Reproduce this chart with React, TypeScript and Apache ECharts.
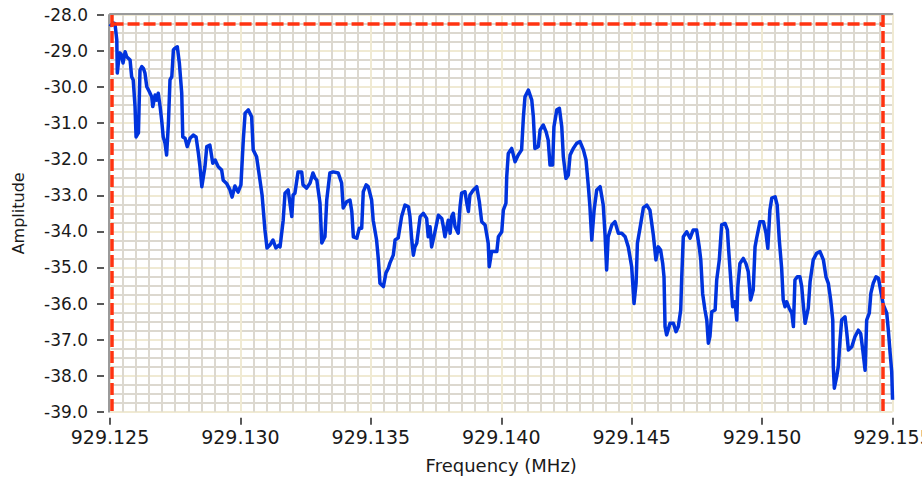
import React, { useEffect, useRef } from "react";
import * as echarts from "echarts";

const frequencies = [
  929.12504, 929.12512, 929.12519, 929.12526, 929.12528, 929.12532, 929.12538, 929.12545, 929.1255, 929.12558,
  929.12564, 929.12577, 929.12583, 929.12589, 929.12596, 929.126, 929.12609, 929.12615, 929.12622, 929.12628,
  929.12634, 929.12641, 929.12651, 929.1266, 929.12664, 929.12673, 929.12679, 929.12685, 929.12692, 929.12698,
  929.12704, 929.12711, 929.12717, 929.12724, 929.1273, 929.12737, 929.12743, 929.12749, 929.12758, 929.12766,
  929.12775, 929.12779, 929.12788, 929.12796, 929.12807, 929.12819, 929.1283, 929.12839, 929.12845, 929.12852,
  929.12864, 929.12871, 929.12883, 929.12894, 929.12903, 929.12915, 929.12928, 929.12934, 929.12947, 929.1296,
  929.12968, 929.12979, 929.12991, 929.13002, 929.13011, 929.13018, 929.1303, 929.13043, 929.13049, 929.13062,
  929.13075, 929.13083, 929.13094, 929.13102, 929.13113, 929.13125, 929.13136, 929.13148, 929.13152, 929.13164,
  929.13171, 929.13183, 929.13197, 929.13202, 929.13209, 929.13221, 929.13235, 929.1324, 929.13254, 929.13267,
  929.13278, 929.13286, 929.13293, 929.13305, 929.13312, 929.13324, 929.13331, 929.13343, 929.13356, 929.13375,
  929.13388, 929.13394, 929.13407, 929.1342, 929.13427, 929.13433, 929.13446, 929.13456, 929.13465, 929.13471,
  929.13482, 929.1349, 929.13503, 929.13509, 929.13522, 929.13529, 929.13535, 929.13548, 929.13558, 929.13567,
  929.13573, 929.13586, 929.13593, 929.13605, 929.13618, 929.13631, 929.13644, 929.1365, 929.13657, 929.13663,
  929.13669, 929.13676, 929.13689, 929.13701, 929.13714, 929.1372, 929.13727, 929.13733, 929.13746, 929.13759,
  929.13772, 929.13778, 929.13784, 929.13797, 929.13804, 929.1381, 929.13816, 929.13823, 929.13835, 929.13842,
  929.13848, 929.13861, 929.13868, 929.13874, 929.1388, 929.13893, 929.13906, 929.13916, 929.13925, 929.13938,
  929.1395, 929.13954, 929.13963, 929.13983, 929.13989, 929.14002, 929.14008, 929.14018, 929.14021, 929.14027,
  929.1404, 929.14053, 929.14065, 929.14078, 929.14085, 929.14091, 929.14104, 929.14117, 929.14123, 929.14129,
  929.14142, 929.14149, 929.14161, 929.14172, 929.1418, 929.14187, 929.14197, 929.14202, 929.14213, 929.14223,
  929.14232, 929.14238, 929.14248, 929.14257, 929.14264, 929.14276, 929.14289, 929.14302, 929.14315, 929.14325,
  929.14334, 929.1434, 929.14347, 929.14356, 929.14366, 929.14379, 929.14391, 929.14398, 929.14404, 929.1441,
  929.14424, 929.14436, 929.14449, 929.14462, 929.14475, 929.14487, 929.145, 929.14509, 929.14517, 929.14522,
  929.14532, 929.14545, 929.14558, 929.1457, 929.14583, 929.14593, 929.14602, 929.14611, 929.14619, 929.14624,
  929.14628, 929.14634, 929.14647, 929.1466, 929.1467, 929.14679, 929.14688, 929.14692, 929.14698, 929.14711,
  929.14724, 929.14736, 929.14749, 929.14759, 929.14765, 929.14772, 929.14781, 929.14788, 929.14794, 929.148,
  929.14807, 929.1482, 929.14826, 929.14836, 929.14845, 929.14858, 929.14867, 929.14871, 929.1488, 929.14887,
  929.14896, 929.14903, 929.14907, 929.14915, 929.14928, 929.14938, 929.14947, 929.14956, 929.14966, 929.14973,
  929.14979, 929.14992, 929.15005, 929.15015, 929.15022, 929.1503, 929.15037, 929.1505, 929.15058, 929.15066,
  929.15075, 929.15081, 929.15088, 929.15094, 929.15104, 929.15114, 929.1512, 929.15126, 929.15135, 929.15145,
  929.15152, 929.15158, 929.15165, 929.15177, 929.15184, 929.15196, 929.15209, 929.15222, 929.15235, 929.15245,
  929.15254, 929.15263, 929.15271, 929.15273, 929.15277, 929.15286, 929.15292, 929.15299, 929.15305, 929.15318,
  929.15325, 929.15331, 929.15344, 929.15356, 929.15369, 929.15378, 929.15386, 929.15395, 929.15401, 929.15411,
  929.15417, 929.15426, 929.15437, 929.15446, 929.15452, 929.15459, 929.15465, 929.15478, 929.15484, 929.15491,
  929.15497, 929.155,
];

const amplitudes = [
  -28.28, -28.22, -28.24, -28.69, -29.61, -29.33, -29.05, -29.11, -29.33, -29.02,
  -29.16, -29.25, -29.71, -29.8, -30.54, -31.38, -31.27, -29.53, -29.43, -29.48,
  -29.61, -29.99, -30.13, -30.27, -30.54, -30.22, -30.36, -30.17, -30.54, -30.91,
  -31.38, -31.56, -31.88, -31.0, -29.8, -29.71, -28.97, -28.92, -28.88, -29.34,
  -30.17, -31.38, -31.42, -31.65, -31.42, -31.33, -31.38, -31.84, -32.21, -32.76,
  -32.21, -31.65, -31.61, -32.11, -32.02, -32.21, -32.3, -32.58, -32.67, -32.85,
  -33.05, -32.74, -32.91, -32.71, -31.47, -30.72, -30.63, -30.82, -31.74, -31.93,
  -32.58, -32.99, -33.96, -34.46, -34.38, -34.24, -34.46, -34.38, -34.43, -33.69,
  -32.94, -32.85, -33.59, -32.99, -32.94, -32.35, -32.35, -32.71, -32.8, -32.66,
  -32.38, -32.52, -32.58, -33.21, -34.32, -34.15, -33.13, -32.38, -32.35, -32.38,
  -32.66, -33.35, -33.18, -33.13, -33.45, -34.15, -34.19, -33.91, -33.91, -32.9,
  -32.71, -32.76, -33.13, -33.69, -34.24, -34.79, -35.44, -35.53, -35.15, -35.02,
  -34.88, -34.66, -34.24, -34.18, -33.59, -33.27, -33.32, -33.59, -34.24, -34.66,
  -34.43, -34.33, -33.59, -33.5, -33.64, -34.15, -33.87, -34.43, -34.01, -33.55,
  -33.64, -33.87, -34.15, -33.69, -34.05, -33.59, -33.5, -33.87, -34.05, -33.32,
  -32.94, -32.9, -33.22, -33.45, -32.99, -32.85, -32.76, -33.18, -33.73, -33.82,
  -34.33, -34.98, -34.56, -34.56, -34.15, -34.01, -33.41, -33.22, -32.48, -31.84,
  -31.7, -32.07, -31.88, -31.74, -30.82, -30.27, -30.08, -30.36, -30.82, -31.7,
  -31.65, -31.19, -31.05, -31.24, -31.47, -32.16, -32.16, -31.1, -30.63, -30.59,
  -31.1, -31.93, -32.53, -32.44, -31.88, -31.7, -31.56, -31.51, -31.74, -32.02,
  -32.76, -33.32, -34.24, -33.41, -32.85, -32.76, -33.27, -34.1, -35.07, -34.15,
  -33.82, -33.73, -34.05, -34.05, -34.15, -34.43, -34.98, -36.0, -35.43, -34.33,
  -33.91, -33.34, -33.27, -33.41, -34.1, -34.79, -34.43, -34.52, -34.89, -35.26,
  -36.64, -36.87, -36.55, -36.55, -36.78, -36.64, -36.18, -35.26, -34.15, -34.01,
  -34.19, -33.96, -33.96, -34.43, -34.79, -35.72, -36.18, -36.46, -37.1, -36.92,
  -36.23, -36.18, -35.35, -34.79, -33.82, -33.78, -33.96, -34.43, -35.35, -36.09,
  -35.95, -36.46, -35.53, -34.89, -34.75, -34.89, -35.12, -35.9, -35.63, -34.43,
  -34.19, -33.73, -33.73, -34.05, -34.47, -33.41, -33.08, -33.04, -33.27, -34.24,
  -35.02, -35.9, -36.09, -35.95, -36.13, -36.27, -36.64, -35.35, -35.26, -35.26,
  -35.53, -36.04, -36.55, -36.13, -35.4, -34.79, -34.61, -34.56, -34.79, -35.26,
  -35.44, -35.9, -36.46, -37.75, -38.35, -38.03, -37.75, -37.01, -36.46, -36.37,
  -36.83, -37.29, -37.2, -36.92, -36.74, -36.83, -37.29, -37.85, -36.46, -36.27,
  -35.72, -35.44, -35.26, -35.3, -35.53, -35.81, -36.04, -36.27, -36.74, -37.38,
  -37.89, -38.62,
];

const xRange = [929.125, 929.155];
const xStep = 0.005;
const yRange = [-39, -28];
const yStep = 1;
const cursorFrequencies = [929.12506, 929.15463];
const cursorAmplitude = -28.23;

const FONT = "DejaVu Sans";

export default function App() {
  const ref = useRef<HTMLDivElement>(null);

  useEffect(() => {
    if (!ref.current) return;
    const chart = echarts.init(ref.current, null, { renderer: "svg" });
    const data = frequencies.map((f, i) => [f, amplitudes[i]]);
    const cursorStyle = { color: "#ff3311", width: 3.5, type: [12, 4] as any };

    chart.setOption({
      animation: false,
      backgroundColor: "#ffffff",
      grid: {
        left: 110,
        right: 29.5,
        top: 15,
        bottom: 69.3,
        containLabel: false,
        outerBoundsMode: "none",
      },
      xAxis: [
        {
          type: "value",
          min: xRange[0],
          max: xRange[1],
          interval: xStep,
          offset: 6,
          axisLine: { show: false },
          axisTick: { show: true, length: 7, lineStyle: { color: "#222", width: 1.5 } },
          axisLabel: {
            formatter: (v: number) => v.toFixed(3),
            fontSize: 19,
            color: "#1a1a1a",
            fontFamily: FONT,
            margin: 10,
            showMinLabel: true,
            showMaxLabel: true,
          },
          splitLine: { show: true, lineStyle: { color: "#f0ead3", width: 2 } },
          minorTick: { show: false, splitNumber: 10 },
          minorSplitLine: { show: true, lineStyle: { color: "#dcd8cf", width: 2 } },
          name: "Frequency (MHz)",
          nameLocation: "middle",
          nameGap: 39,
          nameTextStyle: { fontSize: 18, color: "#1a1a1a", fontFamily: FONT },
        },
        {
          type: "value",
          position: "top",
          min: xRange[0],
          max: xRange[1],
          offset: 1,
          axisLine: { show: true, lineStyle: { color: "#9a9a9a", width: 2 } },
          axisTick: { show: false },
          axisLabel: { show: false },
          splitLine: { show: false },
        },
      ],
      yAxis: [
        {
          type: "value",
          min: yRange[0],
          max: yRange[1],
          interval: yStep,
          offset: 6,
          axisLine: { show: false },
          axisTick: { show: true, length: 7, lineStyle: { color: "#222", width: 1.5 } },
          axisLabel: {
            formatter: (v: number) => v.toFixed(1),
            fontSize: 17,
            color: "#1a1a1a",
            fontFamily: FONT,
            margin: 16,
          },
          splitLine: { show: true, lineStyle: { color: "#f0ead3", width: 2 } },
          minorTick: { show: false, splitNumber: 4 },
          minorSplitLine: { show: true, lineStyle: { color: "#dcd8cf", width: 2 } },
          name: "Amplitude",
          nameLocation: "middle",
          nameGap: 78,
          nameTextStyle: { fontSize: 16, color: "#1a1a1a", fontFamily: FONT },
        },
        {
          type: "value",
          position: "left",
          min: yRange[0],
          max: yRange[1],
          offset: 1.5,
          axisLine: { show: true, lineStyle: { color: "#9a9a9a", width: 2 } },
          axisTick: { show: false },
          axisLabel: { show: false },
          splitLine: { show: false },
        },
      ],
      series: [
        {
          type: "line",
          xAxisIndex: 0,
          yAxisIndex: 0,
          data,
          showSymbol: false,
          symbol: "none",
          lineStyle: { color: "#0033dd", width: 3.5, join: "round", cap: "square" },
          z: 3,
          silent: true,
        },
        {
          type: "line",
          xAxisIndex: 0,
          yAxisIndex: 0,
          data: [],
          z: 4,
          silent: true,
          markLine: {
            silent: true,
            symbol: ["none", "none"],
            label: { show: false },
            lineStyle: cursorStyle,
            emphasis: { disabled: true },
            data: [
              [
                { coord: [cursorFrequencies[0], yRange[1]] },
                { coord: [cursorFrequencies[0], yRange[0]] },
              ],
              [
                { coord: [cursorFrequencies[1], yRange[1]] },
                { coord: [cursorFrequencies[1], yRange[0]] },
              ],
              [
                { coord: [cursorFrequencies[0], cursorAmplitude] },
                { coord: [cursorFrequencies[1], cursorAmplitude] },
              ],
            ],
          },
        },
      ],
    });

    return () => chart.dispose();
  }, []);

  return (
    <div
      ref={ref}
      style={{ position: "fixed", left: 0, top: 0, width: 922, height: 481, background: "#fff" }}
    />
  );
}
